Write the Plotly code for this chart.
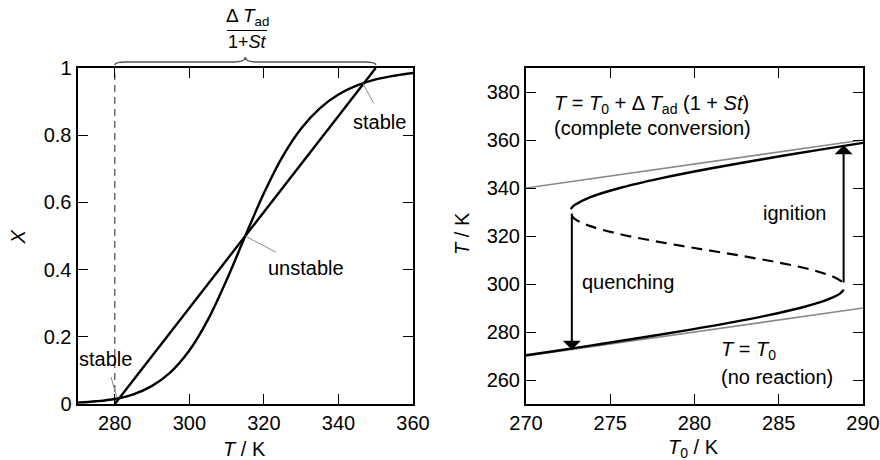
import plotly.graph_objects as go

# ---- left panel: conversion vs temperature ----
s_T = [270, 275, 280, 285, 290, 295, 300, 305, 310, 315, 320, 325, 330, 335, 340, 345, 350, 355, 360]
s_X = [0.004, 0.008, 0.015, 0.029, 0.054, 0.095, 0.159, 0.251, 0.369, 0.500, 0.627, 0.736, 0.820,
       0.880, 0.921, 0.948, 0.966, 0.977, 0.985]
heat_T = [280, 350]
heat_X = [0, 1]
T0_mark = 280
left_xticks = [280, 300, 320, 340, 360]
left_yticks = [0, 0.2, 0.4, 0.6, 0.8, 1]
left_yticktext = ["0", "0.2", "0.4", "0.6", "0.8", "1"]

# leader lines for the state labels: (T_start, X_start, T_end, X_end)
leader_stable_hi = [346.5, 0.955, 349.4, 0.896]
leader_unstable = [315.0, 0.500, 323.2, 0.452]
leader_stable_lo = [280.6, 0.018, 279.0, 0.080]

# ---- right panel: steady states vs feed temperature ----
low_T0 = [270.0, 271.64, 274.45, 277.18, 279.78, 282.21, 284.39, 286.26, 287.27, 288.07, 288.63, 288.86]
low_T = [270.3, 272.0, 275.0, 278.0, 281.0, 284.0, 287.0, 290.0, 292.0, 294.0, 296.0, 297.6]
mid_T0 = [288.75, 288.24, 286.91, 284.94, 282.56, 280.0, 277.54, 275.44, 273.86, 272.91, 272.72]
mid_T = [301.0, 303.0, 306.0, 309.0, 312.0, 315.0, 318.0, 321.0, 324.0, 327.0, 328.4]
up_T0 = [272.66, 272.74, 272.91, 273.75, 275.56, 277.98, 280.85, 284.04, 287.47, 290.0]
up_T = [331.2, 332.0, 333.0, 336.0, 340.0, 344.0, 348.0, 352.0, 356.0, 358.8]
bound_T0 = [270, 290]
no_reaction_T = [270, 290]
full_conv_T = [340, 360]
quench_T0, quench_from, quench_to = 272.72, 330.0, 272.6
ignite_T0, ignite_from, ignite_to = 288.85, 300.0, 357.8
right_xticks = [270, 275, 280, 285, 290]
right_yticks = [260, 280, 300, 320, 340, 360, 380]

FONT = "Liberation Sans, Arial, Helvetica, sans-serif"
W, H = 880, 460

fig = go.Figure()

black = dict(color="black", width=2.4)
gray = dict(color="#8a8a8a", width=1.6)

# left panel traces
fig.add_trace(go.Scatter(x=[T0_mark, T0_mark], y=[0, 1], mode="lines",
                         line=dict(color="#555555", width=1.3, dash="7px,5px"),
                         xaxis="x", yaxis="y", hoverinfo="skip"))
fig.add_trace(go.Scatter(x=s_T, y=s_X, mode="lines", line=dict(shape="spline", **black),
                         xaxis="x", yaxis="y"))
fig.add_trace(go.Scatter(x=heat_T, y=heat_X, mode="lines", line=black, xaxis="x", yaxis="y"))
for ld in (leader_stable_hi, leader_unstable, leader_stable_lo):
    fig.add_trace(go.Scatter(x=[ld[0], ld[2]], y=[ld[1], ld[3]], mode="lines",
                             line=dict(color="#8a8a8a", width=1), xaxis="x", yaxis="y",
                             hoverinfo="skip"))

# right panel traces
fig.add_trace(go.Scatter(x=bound_T0, y=full_conv_T, mode="lines", line=gray, xaxis="x2", yaxis="y2"))
fig.add_trace(go.Scatter(x=bound_T0, y=no_reaction_T, mode="lines", line=gray, xaxis="x2", yaxis="y2"))
fig.add_trace(go.Scatter(x=low_T0, y=low_T, mode="lines", line=dict(shape="spline", **black),
                         xaxis="x2", yaxis="y2"))
fig.add_trace(go.Scatter(x=mid_T0, y=mid_T, mode="lines",
                         line=dict(shape="spline", color="black", width=2.2, dash="11px,7px"),
                         xaxis="x2", yaxis="y2"))
fig.add_trace(go.Scatter(x=up_T0, y=up_T, mode="lines", line=dict(shape="spline", **black),
                         xaxis="x2", yaxis="y2"))

# plot areas (pixel positions -> paper fractions)
lx0, lx1 = 77.5 / W, 413 / W
rx0, rx1 = 526 / W, 863 / W
y0, y1 = (H - 404) / H, (H - 68) / H

axis_common = dict(showgrid=False, zeroline=False, showline=True, linecolor="black", linewidth=2,
                   mirror="ticks", ticks="inside", ticklen=10, tickwidth=1.3, tickcolor="black",
                   automargin=False,
                   tickfont=dict(family=FONT, size=20, color="black"))

fig.update_layout(
    width=W, height=H, margin=dict(l=0, r=0, t=0, b=0, autoexpand=False),
    paper_bgcolor="white", plot_bgcolor="white", showlegend=False,
    font=dict(family=FONT, size=20, color="black"),
    xaxis=dict(domain=[lx0, lx1], range=[270, 360], tickvals=left_xticks, anchor="y", **axis_common),
    yaxis=dict(domain=[y0, y1], range=[0, 1], tickvals=left_yticks, ticktext=left_yticktext,
               anchor="x", **axis_common),
    xaxis2=dict(domain=[rx0, rx1], range=[270, 290], tickvals=right_xticks, anchor="y2", **axis_common),
    yaxis2=dict(domain=[y0, y1], range=[250, 390], tickvals=right_yticks, anchor="x2", **axis_common),
)

ann = []


def txt(x, y, text, xref, yref, size=20, xanchor="center", yanchor="middle", angle=0):
    ann.append(dict(x=x, y=y, xref=xref, yref=yref, text=text, showarrow=False,
                    xanchor=xanchor, yanchor=yanchor, textangle=angle,
                    font=dict(family=FONT, size=size, color="black")))


# axis titles
txt(245 / W, 1 - 449 / H, "<i>T</i> / K", "paper", "paper")
txt(693 / W, 1 - 448 / H, "<i>T</i><sub>0</sub> / K", "paper", "paper")
txt(17.5 / W, 1 - 237 / H, "<i>X</i>", "paper", "paper", angle=-90)
txt(462 / W, 1 - 234 / H, "<i>T</i> / K", "paper", "paper", angle=-90)

# left panel labels
txt(351, 0.839, "stable", "x", "y")
txt(331.2, 0.405, "unstable", "x", "y")
txt(277.6, 0.134, "stable", "x", "y")

# fraction above the brace
txt(247 / W, 1 - 17 / H, "Δ <i>T</i><sub>ad</sub>", "paper", "paper", size=19)
txt(247 / W, 1 - 42 / H, "1+<i>St</i>", "paper", "paper", size=18)

# right panel labels
txt(271.54, 374.6, "<i>T</i> = <i>T</i><sub>0</sub> + Δ <i>T</i><sub>ad</sub> (1 + <i>St</i>)",
    "x2", "y2", xanchor="left")
txt(271.54, 365.0, "(complete conversion)", "x2", "y2", xanchor="left")
txt(287.95, 329.6, "ignition", "x2", "y2", xanchor="right")
txt(273.2, 300.8, "quenching", "x2", "y2", xanchor="left")
txt(281.45, 272.5, "<i>T</i> = <i>T</i><sub>0</sub>", "x2", "y2", xanchor="left")
txt(281.45, 261.2, "(no reaction)", "x2", "y2", xanchor="left")

# transition arrows
for x, ya, yb in ((quench_T0, quench_from, quench_to), (ignite_T0, ignite_from, ignite_to)):
    ann.append(dict(x=x, y=yb, ax=x, ay=ya, xref="x2", yref="y2", axref="x2", ayref="y2",
                    text="", showarrow=True, arrowhead=1, arrowsize=1.5, arrowwidth=2,
                    arrowcolor="black", standoff=0, startstandoff=0))

fig.update_layout(annotations=ann)

# curly brace over the adiabatic span and the fraction bar
ye, yb, yc = 1 - 65 / H, 1 - 62 / H, 1 - 57 / H
a, b = heat_T[0], heat_T[1]
m = (a + b) / 2
brace = (f"M {a},{ye} Q {a},{yb} {a + 3},{yb} L {m - 3},{yb} Q {m},{yb} {m},{yc} "
         f"Q {m},{yb} {m + 3},{yb} L {b - 3},{yb} Q {b},{yb} {b},{ye}")
fig.add_shape(type="path", path=brace, xref="x", yref="paper",
              line=dict(color="#555555", width=1.4))
fig.add_shape(type="line", x0=227 / W, x1=267 / W, y0=1 - 30.5 / H, y1=1 - 30.5 / H,
              xref="paper", yref="paper", line=dict(color="black", width=1.2))

fig.write_html("out.html")
